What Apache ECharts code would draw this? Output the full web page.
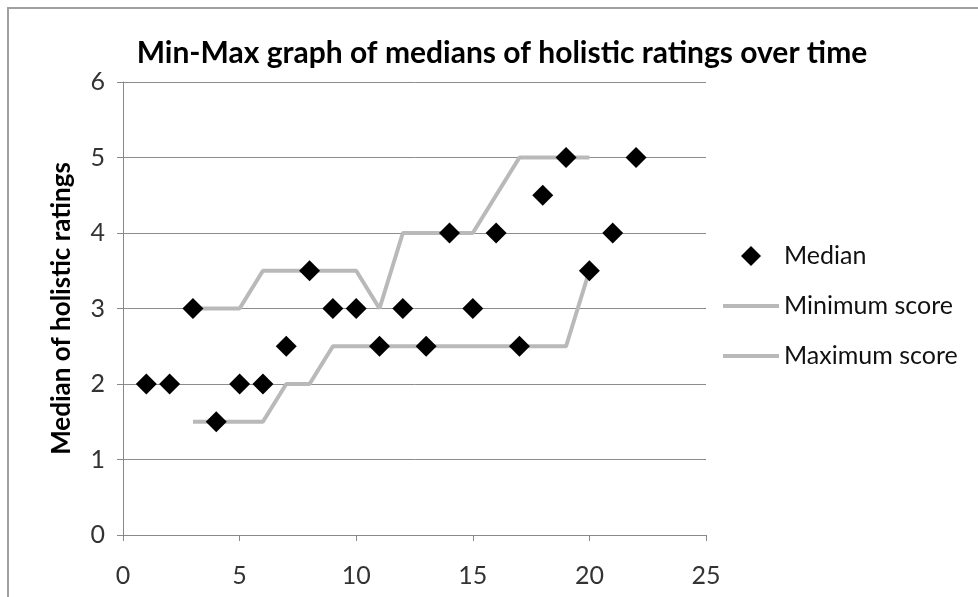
<!DOCTYPE html>
<html>
<head>
<meta charset="utf-8">
<script src="https://cdn.jsdelivr.net/npm/echarts@6/dist/echarts.min.js"></script>
<style>
html,body{margin:0;padding:0;background:#fff;}
#chart{width:978px;height:597px;}
</style>
</head>
<body>
<div id="chart"></div>
<script>
var weeks = [1,2,3,4,5,6,7,8,9,10,11,12,13,14,15,16,17,18,19,20,21,22];
var median = [2,2,3,1.5,2,2,2.5,3.5,3,3,2.5,3,2.5,4,3,4,2.5,4.5,5,3.5,4,5];
var rangeWeeks = [3,4,5,6,7,8,9,10,11,12,13,14,15,16,17,18,19,20];
var minScore = [1.5,1.5,1.5,1.5,2,2,2.5,2.5,2.5,2.5,2.5,2.5,2.5,2.5,2.5,2.5,2.5,3.5];
var maxScore = [3,3,3,3.5,3.5,3.5,3.5,3.5,3,4,4,4,4,4.5,5,5,5,5];
var xTicks = [0,5,10,15,20,25];
var yTicks = [0,1,2,3,4,5,6];

function pairs(xs, ys){ return xs.map(function(x,i){ return [x, ys[i]]; }); }

var FONT = 'Lato';
var chart = echarts.init(document.getElementById('chart'), null, {renderer:'canvas'});
var diamond = 'path://M10,0 L20,10 L10,20 L0,10 Z';
var lineIcon = 'path://M0,0 L56,0 L56,4 L0,4 Z';
chart.setOption({
  animation:false,
  backgroundColor:'#fff',
  graphic:[{type:'rect', silent:true, shape:{x:8,y:8,width:1100,height:800}, style:{fill:'none', stroke:'#a0a0a0', lineWidth:2}}],
  title:{text:'Min-Max graph of medians of holistic ratings over time', left:497, textAlign:'center', top:33,
    textStyle:{fontFamily:FONT, fontWeight:'bold', fontSize:30, color:'#000'}},
  grid:{left:123, right:272, top:82, bottom:62},
  legend:{orient:'vertical', left:718, top:238, itemWidth:56, itemHeight:20, itemGap:24,
    textStyle:{fontFamily:FONT, fontSize:25, lineHeight:26, color:'#111'},
    data:[{name:'Median', icon:diamond}, {name:'Minimum score', icon:lineIcon}, {name:'Maximum score', icon:lineIcon}]},
  xAxis:{type:'value', min:xTicks[0], max:xTicks[xTicks.length-1], interval:5,
    axisLine:{show:true, lineStyle:{color:'#888', width:1}},
    axisTick:{show:true, length:6, lineStyle:{color:'#888'}},
    splitLine:{show:false},
    axisLabel:{fontFamily:FONT, fontSize:25, color:'#333', margin:28}},
  yAxis:{type:'value', min:yTicks[0], max:yTicks[yTicks.length-1], interval:1,
    name:'Median of holistic ratings', nameLocation:'middle', nameRotate:90, nameGap:48,
    nameTextStyle:{fontFamily:FONT, fontWeight:'bold', fontSize:26, color:'#000'},
    axisLine:{show:true, lineStyle:{color:'#888', width:1}},
    axisTick:{show:true, length:6, lineStyle:{color:'#888'}},
    splitLine:{show:true, lineStyle:{color:'#8c8c8c', width:1}},
    axisLabel:{fontFamily:FONT, fontSize:25, color:'#333', margin:18}},
  series:[
    {name:'Minimum score', type:'line', data:pairs(rangeWeeks, minScore), symbol:'none', z:2,
      lineStyle:{color:'#b9b9b9', width:4}, itemStyle:{color:'#b9b9b9'}},
    {name:'Maximum score', type:'line', data:pairs(rangeWeeks, maxScore), symbol:'none', z:2,
      lineStyle:{color:'#b9b9b9', width:4}, itemStyle:{color:'#b9b9b9'}},
    {name:'Median', type:'scatter', data:pairs(weeks, median), symbol:'diamond', symbolSize:[21,21], z:5,
      itemStyle:{color:'#000', opacity:1}}
  ]
});
</script>
</body>
</html>
